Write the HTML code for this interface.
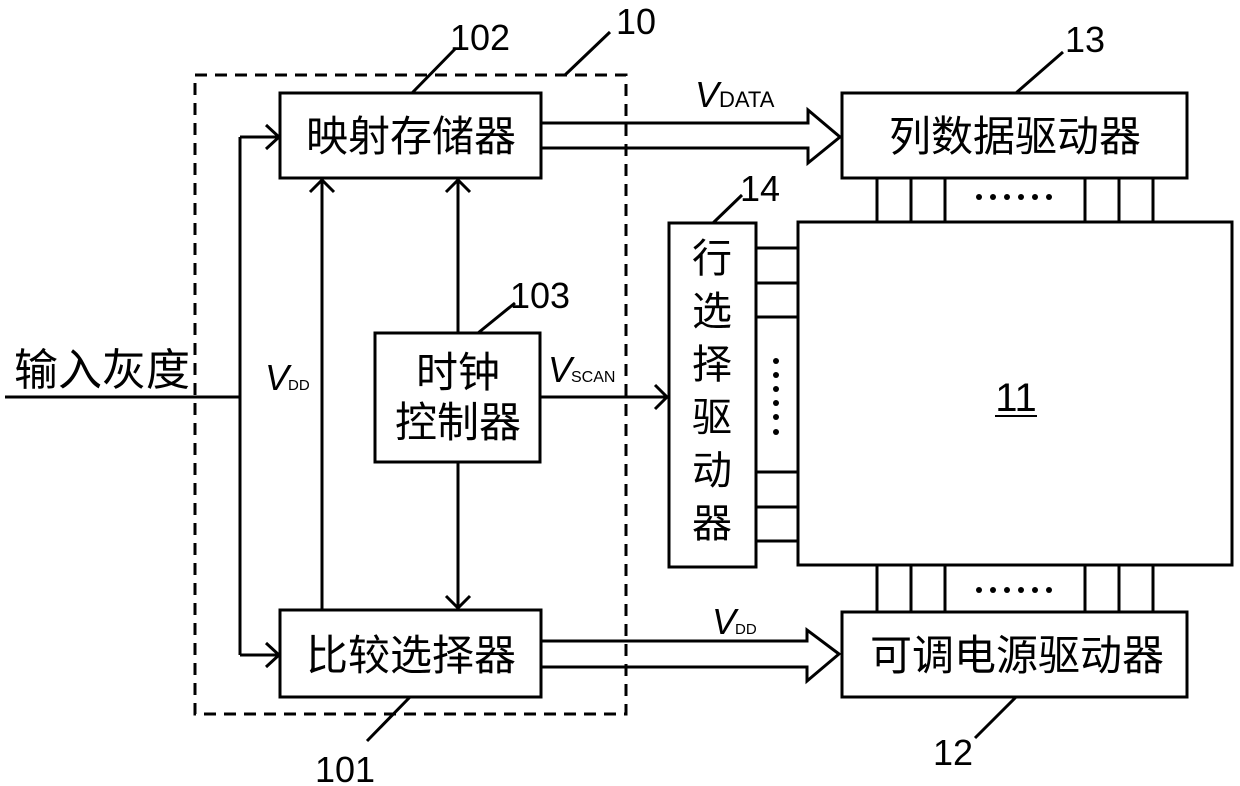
<!DOCTYPE html>
<html><head><meta charset="utf-8"><style>
html,body{margin:0;padding:0;background:#fff;}
svg{display:block;}
text{font-family:"Liberation Sans","Noto Sans CJK SC",sans-serif;fill:#000;}
.cn{font-size:42px;}
.num{font-size:36px;}
</style></head><body>
<svg width="1240" height="786" viewBox="0 0 1240 786" xmlns="http://www.w3.org/2000/svg">
<g fill="none" stroke="#000" stroke-width="3">
<rect x="195" y="75" width="431" height="639" stroke-dasharray="12,8"/>
<rect x="280" y="93" width="261" height="85"/>
<rect x="280" y="610" width="261" height="87"/>
<rect x="375" y="333" width="165" height="129"/>
<rect x="842" y="93" width="345" height="85"/>
<rect x="842" y="612" width="345" height="85"/>
<rect x="669" y="223" width="87" height="344"/>
<rect x="798" y="222" width="434" height="343"/>
<polyline points="5,397 240,397"/>
<polyline points="240,137 240,655"/>
<polyline points="240,137 278,137"/>
<polyline points="240,655 278,655"/>
<polyline points="266,125 279,137 266,149"/>
<polyline points="266,643 279,655 266,667"/>
<polyline points="322,610 322,180"/>
<polyline points="310,192 322,180 334,192"/>
<polyline points="458,333 458,180"/>
<polyline points="446,192 458,180 470,192"/>
<polyline points="458,462 458,608"/>
<polyline points="446,596 458,608 470,596"/>
<polyline points="540,397 667,397"/>
<polyline points="655,385 667,397 655,409"/>
<polyline points="541,123 808,123 808,110 840,137 808,163 808,148 541,148"/>
<polyline points="541,641 807,641 807,630 839,654 807,681 807,667 541,667"/>
<line x1="756" y1="248" x2="798" y2="248"/>
<line x1="756" y1="283" x2="798" y2="283"/>
<line x1="756" y1="317" x2="798" y2="317"/>
<line x1="756" y1="472" x2="798" y2="472"/>
<line x1="756" y1="507" x2="798" y2="507"/>
<line x1="756" y1="541" x2="798" y2="541"/>
<g>
<line x1="877" y1="178" x2="877" y2="222"/><line x1="911" y1="178" x2="911" y2="222"/><line x1="945" y1="178" x2="945" y2="222"/>
<line x1="1085" y1="178" x2="1085" y2="222"/><line x1="1119" y1="178" x2="1119" y2="222"/><line x1="1153" y1="178" x2="1153" y2="222"/>
<line x1="877" y1="565" x2="877" y2="612"/><line x1="911" y1="565" x2="911" y2="612"/><line x1="945" y1="565" x2="945" y2="612"/>
<line x1="1085" y1="565" x2="1085" y2="612"/><line x1="1119" y1="565" x2="1119" y2="612"/><line x1="1153" y1="565" x2="1153" y2="612"/>
</g>
<line x1="412" y1="93" x2="456" y2="48"/>
<line x1="565" y1="75" x2="610" y2="32"/>
<line x1="478" y1="333" x2="515" y2="303"/>
<line x1="410" y1="697" x2="367" y2="741"/>
<line x1="1016" y1="93" x2="1063" y2="52"/>
<line x1="1016" y1="697" x2="975" y2="738"/>
<line x1="713" y1="223" x2="742" y2="195"/>
<line x1="995" y1="416" x2="1037" y2="416" stroke-width="2"/>
</g>
<g fill="#000">
<circle cx="979" cy="197" r="3"/><circle cx="993" cy="197" r="3"/><circle cx="1007" cy="197" r="3"/><circle cx="1021" cy="197" r="3"/><circle cx="1035" cy="197" r="3"/><circle cx="1049" cy="197" r="3"/>
<circle cx="979" cy="590" r="3"/><circle cx="993" cy="590" r="3"/><circle cx="1007" cy="590" r="3"/><circle cx="1021" cy="590" r="3"/><circle cx="1035" cy="590" r="3"/><circle cx="1049" cy="590" r="3"/>
<circle cx="776" cy="361" r="3"/><circle cx="776" cy="375" r="3"/><circle cx="776" cy="389" r="3"/><circle cx="776" cy="403" r="3"/><circle cx="776" cy="417" r="3"/><circle cx="776" cy="432" r="3"/>
</g>
<text class="cn" x="411" y="151" text-anchor="middle">映射存储器</text>
<text class="cn" x="411" y="670" text-anchor="middle">比较选择器</text>
<text class="cn" x="458" y="387" text-anchor="middle">时钟</text>
<text class="cn" x="458" y="437" text-anchor="middle">控制器</text>
<text class="cn" x="1015" y="151" text-anchor="middle">列数据驱动器</text>
<text class="cn" x="1017" y="670" text-anchor="middle">可调电源驱动器</text>
<text x="14" y="385" font-size="44">输入灰度</text>
<g class="cn" text-anchor="middle" style="font-size:40px">
<text x="712" y="272">行</text><text x="712" y="325">选</text><text x="712" y="378">择</text><text x="712" y="431">驱</text><text x="712" y="484">动</text><text x="712" y="537">器</text>
</g>
<text class="num" x="480" y="50" text-anchor="middle">102</text>
<text class="num" x="636" y="34" text-anchor="middle">10</text>
<text class="num" x="540" y="308" text-anchor="middle">103</text>
<text class="num" x="345" y="782" text-anchor="middle">101</text>
<text class="num" x="1085" y="52" text-anchor="middle">13</text>
<text class="num" x="953" y="765" text-anchor="middle">12</text>
<text class="num" x="760" y="201" text-anchor="middle">14</text>
<text x="1016" y="411" font-size="40" text-anchor="middle">11</text>
<text x="695" y="107" font-size="36" font-style="italic">V</text><text x="719" y="107" font-size="22">DATA</text>
<text x="265" y="390" font-size="36" font-style="italic">V</text><text x="288" y="390" font-size="15">DD</text>
<text x="548" y="382" font-size="36" font-style="italic">V</text><text x="571" y="382" font-size="16">SCAN</text>
<text x="712" y="634" font-size="36" font-style="italic">V</text><text x="735" y="634" font-size="15">DD</text>
</svg>
</body></html>
